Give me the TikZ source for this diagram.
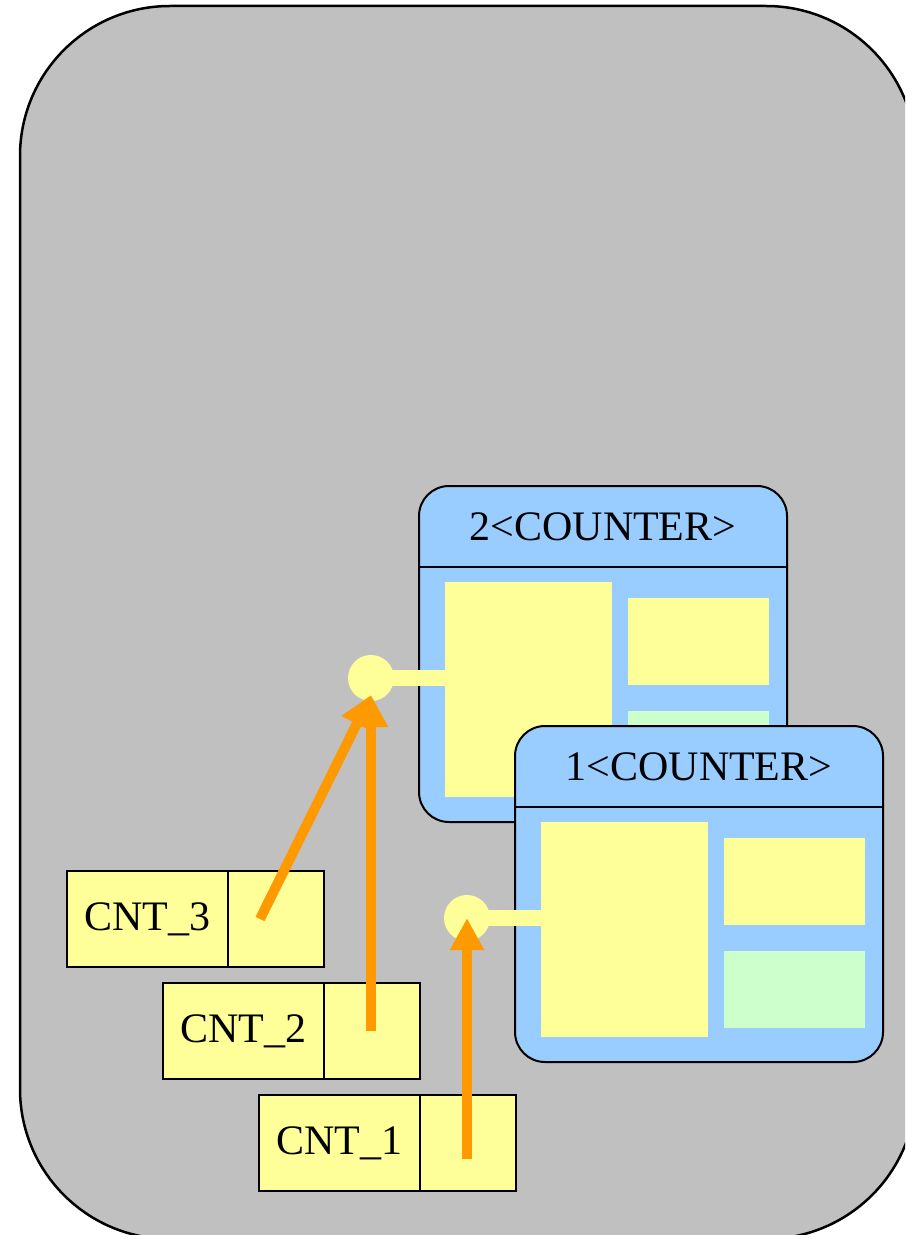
\documentclass[tikz,border=0pt]{standalone}
\usepackage{fontspec}
\setmainfont{Liberation Serif}
\usetikzlibrary{arrows.meta,positioning,calc}

\definecolor{pkggray}{HTML}{C0C0C0}
\definecolor{partblue}{HTML}{99CCFF}
\definecolor{attryellow}{HTML}{FFFF99}
\definecolor{opgreen}{HTML}{CCFFCC}
\definecolor{linkorange}{HTML}{FF9900}

\begin{document}
\begin{tikzpicture}[x=0.5pt, y=-0.5pt, font=\fontsize{21}{25}\selectfont,
  package/.style={draw=black, line width=1.25pt, fill=pkggray, rounded corners=75pt},
  part/.style={draw=black, line width=1pt, fill=partblue, rounded corners=15pt, anchor=north west,
    minimum width=184pt, minimum height=168pt, inner sep=0pt, outer sep=0pt},
  slot/.style={fill=attryellow, anchor=north west, inner sep=0pt, outer sep=0pt},
  opslot/.style={fill=opgreen, anchor=north west, inner sep=0pt, outer sep=0pt},
  port/.style={circle, fill=attryellow, minimum size=23pt, inner sep=0pt},
  wire/.style={draw=attryellow, line width=8pt},
  ref/.style={draw=black, line width=1pt, fill=attryellow, minimum height=48pt, inner sep=0pt, outer sep=0pt},
  link/.style={-{Triangle[width=16pt,length=16pt]}, draw=linkorange, line width=5pt}]
  \useasboundingbox (0,0) rectangle (905,1235);
  \clip (0,0) rectangle (905,1235);
  \draw[package] (20,6) rectangle (916,1239);
  % counter parts
  \foreach \n/\px/\py in {2/419/486, 1/515/726} {
    \node[part] (part\n) at (\px,\py) {};
    \draw[line width=1pt] ($(part\n.north west)+(0,81)$) -- ($(part\n.north east)+(0,81)$);
    \node (title\n) at ($(part\n.north)+(0,40.5)$) {\n<COUNTER>};
    \node[slot, minimum width=83.5pt, minimum height=107.5pt] (attr\n) at ($(part\n.north west)+(26,96)$) {};
    \node[slot, minimum width=70.5pt, minimum height=43.5pt] (val\n) at ($(part\n.north west)+(209,112)$) {};
    \node[opslot, minimum width=70.5pt, minimum height=38.5pt] (op\n) at ($(part\n.north west)+(209,225)$) {};
    \node[port] (port\n) at ($(part\n.north west)+(-48,192)$) {};
    \draw[wire] (port\n.center) -- (port\n.center -| attr\n.west);
  }
  % references
  \foreach \i/\px/\py in {3/67/871, 2/163/983, 1/259/1095} {
    \node[ref, minimum width=80.5pt, anchor=north west] (cnt\i) at (\px,\py) {CNT\_\i};
    \node[ref, minimum width=48pt, right=0pt of cnt\i] (slot\i) {};
  }
  \draw[link] ([yshift=-8pt]port1 |- slot1.center) -- (port1.center);
  \draw[link] (port2 |- slot2.center) -- ([yshift=-8.5pt]port2.center);
  \draw[link] ([xshift=-8pt]slot3.center) -- ([yshift=-8.5pt]port2.center);
\end{tikzpicture}
\end{document}
